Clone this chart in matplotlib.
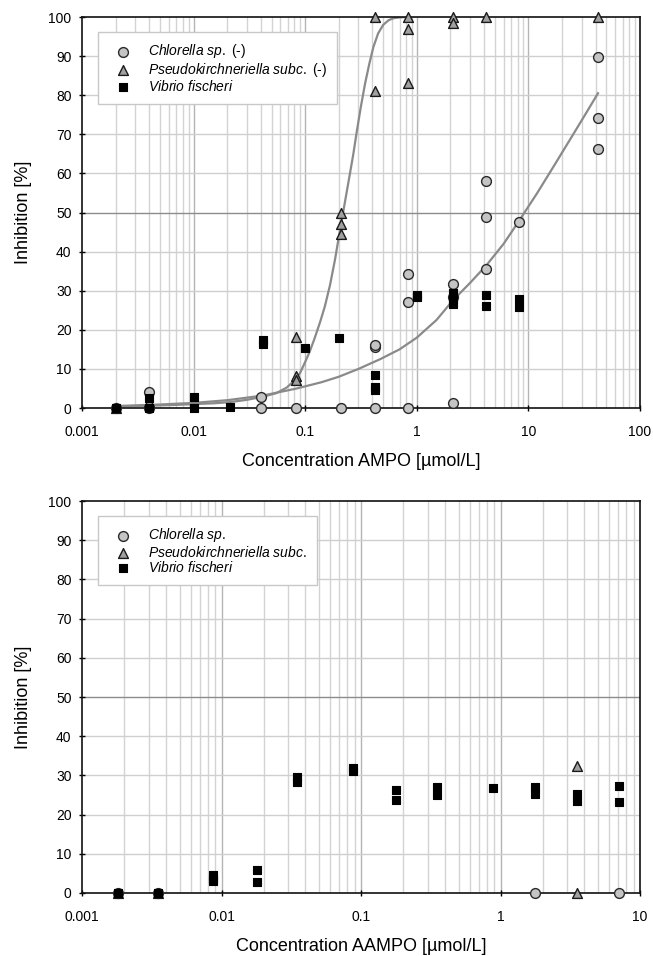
import matplotlib
matplotlib.use('Agg')
import matplotlib.pyplot as plt
from matplotlib.ticker import FixedLocator, FixedFormatter, NullFormatter

plt.rcParams['font.family'] = ['Liberation Sans', 'DejaVu Sans']
plt.rcParams['mathtext.fontset'] = 'custom'
plt.rcParams['mathtext.it'] = 'Liberation Sans:italic'
plt.rcParams['mathtext.rm'] = 'Liberation Sans'

# --- top panel: AMPO ---
chl_x = [0.002, 0.004, 0.004, 0.04, 0.04, 0.083, 0.21, 0.42, 0.42, 0.42, 0.83, 0.83, 0.83,
         2.1, 2.1, 2.1, 4.2, 4.2, 4.2, 8.3, 42, 42, 42]
chl_y = [0, 4.2, 0, 2.9, 0, 0, 0, 0, 15.7, 16.2, 0, 27, 34.3,
         1.3, 28.5, 31.7, 35.6, 48.8, 58, 47.5, 66.2, 74.2, 89.9]

ps_x = [0.002, 0.004, 0.083, 0.083, 0.083, 0.21, 0.21, 0.21, 0.42, 0.42,
        0.83, 0.83, 0.83, 2.1, 2.1, 4.2, 42]
ps_y = [0, 1.5, 18.2, 8.2, 7.2, 50, 47, 44.4, 81, 100,
        100, 97, 83, 100, 98.5, 100, 100]

vf_x = [0.002, 0.004, 0.004, 0.01, 0.01, 0.021, 0.042, 0.042, 0.1, 0.2, 0.42, 0.42, 0.42,
        1.0, 1.0, 2.1, 2.1, 2.1, 4.2, 4.2, 8.3, 8.3]
vf_y = [0, 2.5, 0, 2.7, 0, 0.2, 17.5, 16.4, 15.3, 18, 8.5, 5.3, 4.6,
        28.5, 29, 29.5, 28, 26.5, 29, 26, 28, 25.8]

# fitted curves
chl_fit_x = [0.002, 0.005, 0.01, 0.02, 0.042, 0.084, 0.14, 0.2, 0.3, 0.47, 0.7, 1.0,
             1.5, 2.1, 3.0, 4.2, 6.0, 8.3, 12, 17, 24, 33, 42]
chl_fit_y = [0.5, 0.9, 1.3, 2.0, 3.2, 5.0, 6.6, 8.0, 10.0, 12.5, 15.0, 18.0,
             22.5, 27.5, 32.0, 36.5, 42.0, 48.0, 55.0, 62.0, 69.0, 75.5, 80.5]

ps_fit_x = [0.002, 0.004, 0.007, 0.01, 0.015, 0.021, 0.03, 0.042, 0.055, 0.068, 0.08,
            0.09, 0.1, 0.11, 0.122, 0.136, 0.15, 0.167, 0.185, 0.205, 0.228, 0.25,
            0.27, 0.289, 0.315, 0.344, 0.375, 0.408, 0.45, 0.5, 0.56, 0.62, 0.7, 0.8]
ps_fit_y = [0.4, 0.6, 0.8, 1.0, 1.2, 1.5, 2.1, 2.9, 3.8, 5.2, 7.0,
            9.0, 11.8, 14.5, 18.0, 22.0, 26.0, 31.5, 38.0, 45.5, 53.0, 59.5,
            65.0, 70.5, 77.0, 83.0, 88.0, 92.3, 95.8, 98.0, 99.2, 99.7, 99.9, 100]

# --- bottom panel: AAMPO ---
chl2_x = [0.0018, 0.0035, 1.77, 7.1]
chl2_y = [0, 0, 0, 0]

ps2_x = [0.0018, 0.0035, 3.55, 3.55]
ps2_y = [0, 0, 32.3, 0]

vf2_x = [0.0018, 0.0035, 0.0087, 0.0087, 0.0087, 0.0179, 0.0179, 0.0346, 0.0346,
         0.088, 0.088, 0.177, 0.177, 0.352, 0.352, 0.88, 1.77, 1.77, 3.55, 3.55, 7.1, 7.1]
vf2_y = [0, 0, 4.5, 3.6, 3.0, 5.8, 2.8, 29.5, 28.3,
         31.8, 31.0, 26.3, 23.8, 27, 25, 26.8, 27, 25.3, 25.3, 23.5, 27.3, 23.1]

yticks = [0, 10, 20, 30, 40, 50, 60, 70, 80, 90, 100]
top_xticks = [0.001, 0.01, 0.1, 1, 10, 100]
top_xlabels = ['0.001', '0.01', '0.1', '1', '10', '100']
bot_xticks = [0.001, 0.01, 0.1, 1, 10]
bot_xlabels = ['0.001', '0.01', '0.1', '1', '10']

fig = plt.figure(figsize=(6.53, 9.56), dpi=100)
ax1 = fig.add_axes([0.1256, 0.5732, 0.8545, 0.409])
ax2 = fig.add_axes([0.1256, 0.0659, 0.8545, 0.410])


def style(ax, xticks, xlabels, xlabel, labels):
    ax.set_xscale('log')
    ax.set_xlim(xticks[0], xticks[-1])
    ax.set_ylim(0, 100)
    ax.set_axisbelow(True)
    minors = [m * d for d in xticks[:-1] for m in range(2, 10)]
    for v in minors:
        ax.axvline(v, color='#d3d3d3', lw=1.0, zorder=0)
    for v in xticks[1:-1]:
        ax.axvline(v, color='#b4b4b4', lw=1.0, zorder=0)
    for v in yticks[1:-1]:
        ax.axhline(v, color='#8c8c8c' if v == 50 else '#cfcfcf', lw=1.0, zorder=0)
    ax.xaxis.set_major_locator(FixedLocator(xticks))
    ax.xaxis.set_major_formatter(FixedFormatter(xlabels))
    ax.xaxis.set_minor_locator(FixedLocator([]))
    ax.xaxis.set_minor_formatter(NullFormatter())
    ax.set_yticks(yticks)
    ax.tick_params(axis='both', direction='inout', length=5, width=1, labelsize=10)
    ax.tick_params(axis='x', pad=10)
    ax.tick_params(axis='y', pad=5)
    for s in ax.spines.values():
        s.set_linewidth(1.2)
        s.set_color('#111111')
    ax.set_xlabel(xlabel, fontsize=13, labelpad=10)
    ax.set_ylabel('Inhibition [%]', fontsize=13, labelpad=12)
    ax.legend(handles=labels, loc='upper left', bbox_to_anchor=(0.029, 0.962),
              borderaxespad=0, prop={'size': 10},
              frameon=True, fancybox=False, edgecolor='#c8c8c8', framealpha=1,
              borderpad=0.75, handlelength=2.0, handletextpad=0.8, labelspacing=0.02)


# top panel
ax1.plot(chl_fit_x, chl_fit_y, color='#8a8a8a', lw=1.6, zorder=2)
ax1.plot(ps_fit_x, ps_fit_y, color='#8a8a8a', lw=1.6, zorder=2)
h1 = ax1.scatter(chl_x, chl_y, marker='o', s=50, facecolor='#c4c4c4', edgecolor='#2a2a2a',
                 linewidth=1.0, zorder=3, clip_on=False,
                 label=r'$\mathit{Chlorella\ sp.}$ (-)')
h2 = ax1.scatter(ps_x, ps_y, marker='^', s=50, facecolor='#a0a0a0', edgecolor='#1a1a1a',
                 linewidth=1.0, zorder=3, clip_on=False,
                 label=r'$\mathit{Pseudokirchneriella\ subc.}$ (-)')
h3 = ax1.scatter(vf_x, vf_y, marker='s', s=38, facecolor='black', edgecolor='black',
                 linewidth=0.8, zorder=4, clip_on=False,
                 label=r'$\mathit{Vibrio\ fischeri}$')
style(ax1, top_xticks, top_xlabels, 'Concentration AMPO [µmol/L]', [h1, h2, h3])

# bottom panel
g1 = ax2.scatter(chl2_x, chl2_y, marker='o', s=50, facecolor='#c4c4c4', edgecolor='#2a2a2a',
                 linewidth=1.0, zorder=3, clip_on=False,
                 label=r'$\mathit{Chlorella\ sp.}$')
g2 = ax2.scatter(ps2_x, ps2_y, marker='^', s=50, facecolor='#a0a0a0', edgecolor='#1a1a1a',
                 linewidth=1.0, zorder=3, clip_on=False,
                 label=r'$\mathit{Pseudokirchneriella\ subc.}$')
g3 = ax2.scatter(vf2_x, vf2_y, marker='s', s=38, facecolor='black', edgecolor='black',
                 linewidth=0.8, zorder=4, clip_on=False,
                 label=r'$\mathit{Vibrio\ fischeri}$')
style(ax2, bot_xticks, bot_xlabels, 'Concentration AAMPO [µmol/L]', [g1, g2, g3])

fig.savefig('out.png', dpi=100, facecolor='white')
